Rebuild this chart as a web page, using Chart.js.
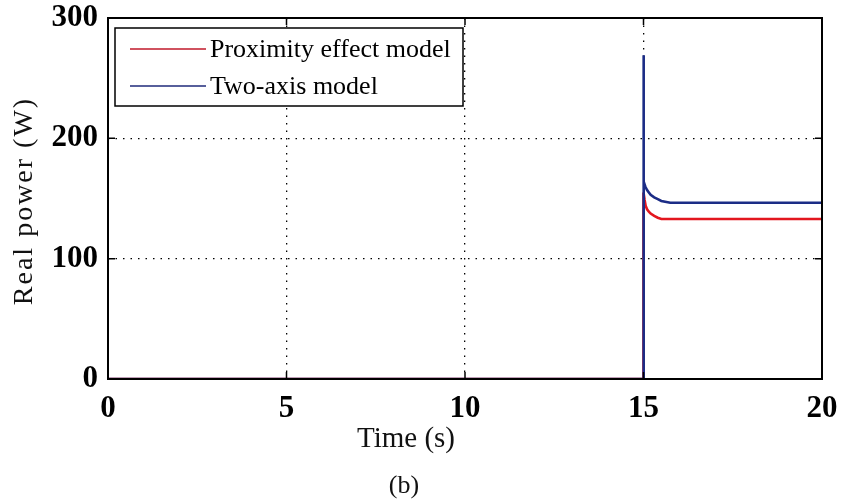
<!DOCTYPE html>
<html>
<head>
<meta charset="utf-8">
<script src="https://cdn.jsdelivr.net/npm/chart.js@4"></script>
<style>
  html, body { margin: 0; padding: 0; background: #fff; }
  #wrap { width: 841px; height: 500px; }
</style>
</head>
<body>
<div id="wrap"><canvas id="powerChart" width="841" height="500"></canvas></div>
<script>
// values
const timeRed = [0, 15, 15, 15.03, 15.06, 15.1, 15.15, 15.2, 15.3, 15.4, 15.5, 20];
const powerRed = [0, 0, 155, 149, 144, 141, 139, 137.5, 135.5, 134, 133, 133];
const timeBlue = [0, 15, 15, 15.01, 15.05, 15.1, 15.15, 15.2, 15.3, 15.4, 15.5, 15.75, 20];
const powerBlue = [0, 0, 269, 164, 160, 157, 155, 153, 151, 149.5, 148, 146.5, 146.5];
const seriesLabels = ['Proximity effect model', 'Two-axis model'];
const xTicks = [0, 5, 10, 15, 20];
const yTicks = [0, 100, 200, 300];

const SERIF = '"Liberation Serif", "Times New Roman", serif';
const RED = '#e3161e';
const BLUE = '#1b2c86';

const toPoints = (xs, ys) => xs.map((x, i) => ({ x: x, y: ys[i] }));

// keep label overflow from pushing the plot box around
const fixSize = (w, h) => s => {
    if (w) s.width = w;
    if (h) s.height = h;
    s.paddingLeft = 0; s.paddingRight = 0;
    s.paddingTop = 0; s.paddingBottom = 0;
};

// box, inward ticks, legend and titles (matlab look)
const matlabFrame = {
    id: 'matlabFrame',
    afterDatasetsDraw(chart) {
        const { ctx, chartArea: a, scales } = chart;
        ctx.save();
        ctx.strokeStyle = '#000';
        ctx.lineWidth = 2;
        ctx.setLineDash([]);
        ctx.strokeRect(a.left, a.top, a.right - a.left, a.bottom - a.top);

        // inward tick marks
        ctx.lineWidth = 1.5;
        const len = 7;
        ctx.beginPath();
        xTicks.forEach(t => {
            const px = scales.x.getPixelForValue(t);
            ctx.moveTo(px, a.bottom); ctx.lineTo(px, a.bottom - len);
            ctx.moveTo(px, a.top); ctx.lineTo(px, a.top + len);
        });
        yTicks.forEach(t => {
            const py = scales.y.getPixelForValue(t);
            ctx.moveTo(a.left, py); ctx.lineTo(a.left + len, py);
            ctx.moveTo(a.right, py); ctx.lineTo(a.right - len, py);
        });
        ctx.stroke();

        // legend box
        const lx = 115, ly = 28, lw = 348, lh = 78;
        ctx.fillStyle = '#fff';
        ctx.fillRect(lx, ly, lw, lh);
        ctx.lineWidth = 1.5;
        ctx.strokeRect(lx, ly, lw, lh);
        const rows = [{ y: 49, color: '#c0182a' }, { y: 86, color: '#1f2a7a' }];
        ctx.font = '26px ' + SERIF;
        ctx.textBaseline = 'middle';
        ctx.textAlign = 'left';
        rows.forEach((r, i) => {
            ctx.strokeStyle = r.color;
            ctx.lineWidth = 1.5;
            ctx.beginPath();
            ctx.moveTo(130, r.y); ctx.lineTo(206, r.y);
            ctx.stroke();
            ctx.fillStyle = '#000';
            ctx.fillText(seriesLabels[i], 210, r.y + 1);
        });
        ctx.restore();
    },
    afterDraw(chart) {
        const { ctx } = chart;
        ctx.save();
        ctx.fillStyle = '#111';
        ctx.textAlign = 'center';
        ctx.textBaseline = 'middle';

        ctx.font = '29px ' + SERIF;
        ctx.fillText('Time (s)', 406, 439);

        ctx.font = '26px ' + SERIF;
        ctx.fillText('(b)', 404, 486);

        ctx.translate(25, 202);
        ctx.rotate(-Math.PI / 2);
        ctx.font = '28px ' + SERIF;
        ctx.letterSpacing = '2px';
        ctx.fillText('Real power (W)', 1, 0);
        ctx.restore();
    }
};

const ctx = document.getElementById('powerChart').getContext('2d');
new Chart(ctx, {
    type: 'scatter',
    data: {
        datasets: [
            {
                label: seriesLabels[0],
                data: toPoints(timeRed, powerRed),
                showLine: true,
                borderColor: RED,
                backgroundColor: RED,
                borderWidth: 2.6,
                pointRadius: 0,
                tension: 0,
                order: 1
            },
            {
                label: seriesLabels[1],
                data: toPoints(timeBlue, powerBlue),
                showLine: true,
                borderColor: BLUE,
                backgroundColor: BLUE,
                borderWidth: 2.6,
                pointRadius: 0,
                tension: 0,
                order: 0
            }
        ]
    },
    options: {
        responsive: false,
        animation: false,
        events: [],
        layout: {
            padding: { left: 0, right: 19, top: 18, bottom: 0 }
        },
        plugins: {
            legend: { display: false },
            tooltip: { enabled: false }
        },
        scales: {
            x: {
                type: 'linear',
                min: 0,
                max: 20,
                afterFit: fixSize(0, 121),
                afterBuildTicks: s => { s.ticks = xTicks.map(v => ({ value: v })); },
                ticks: {
                    color: '#000',
                    padding: 11,
                    maxRotation: 0,
                    font: { family: SERIF, size: 31, weight: 'bold' }
                },
                grid: {
                    color: '#000',
                    lineWidth: 1.3,
                    drawTicks: false
                },
                border: { display: false, dash: [1.5, 6] }
            },
            y: {
                min: 0,
                max: 300,
                afterFit: fixSize(108, 0),
                afterBuildTicks: s => { s.ticks = yTicks.map(v => ({ value: v })); },
                ticks: {
                    color: '#000',
                    padding: 10,
                    font: { family: SERIF, size: 31, weight: 'bold' }
                },
                grid: {
                    color: '#000',
                    lineWidth: 1.3,
                    drawTicks: false
                },
                border: { display: false, dash: [1.5, 6] }
            }
        }
    },
    plugins: [matlabFrame]
});
</script>
</body>
</html>
